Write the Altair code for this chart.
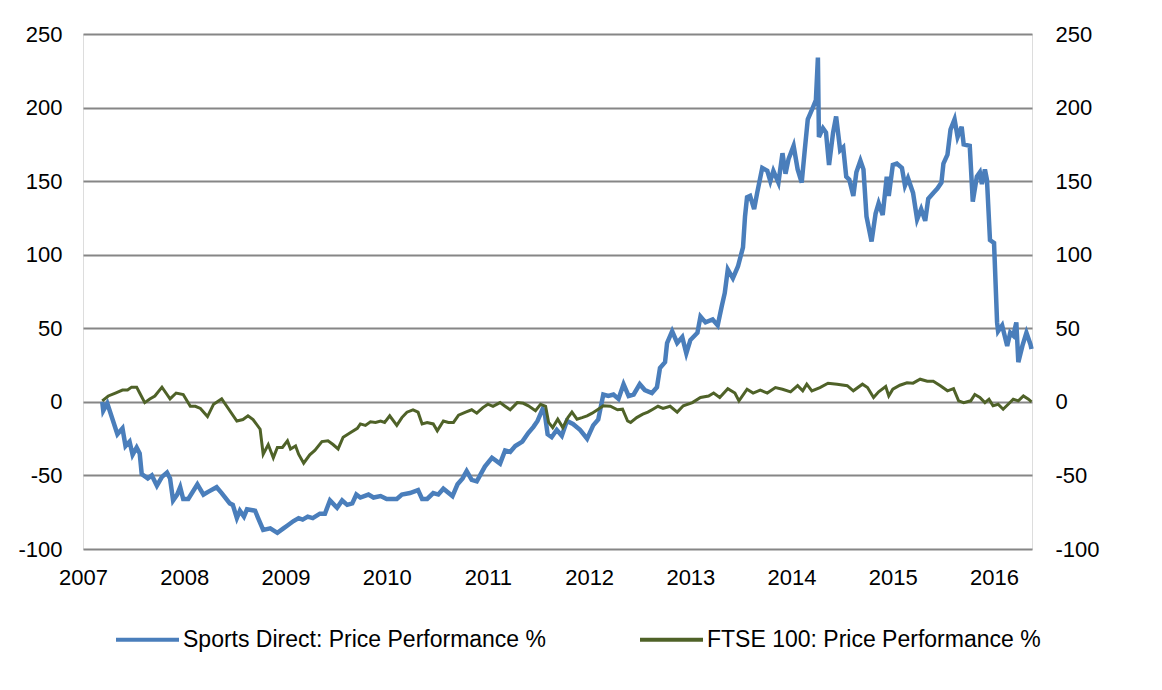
import altair as alt
import pandas as pd

# Sports Direct: Price Performance % (decimal year, value)
sd_year = [2007.19, 2007.20, 2007.24, 2007.34, 2007.39, 2007.42, 2007.46, 2007.49, 2007.53, 2007.56,
           2007.58, 2007.64, 2007.68, 2007.73, 2007.78, 2007.83, 2007.86, 2007.89, 2007.93, 2007.96,
           2007.99, 2008.04, 2008.13, 2008.19, 2008.24, 2008.32, 2008.37, 2008.45, 2008.48, 2008.52,
           2008.55, 2008.59, 2008.62, 2008.70, 2008.73, 2008.78, 2008.85, 2008.92, 2008.98, 2009.02,
           2009.08, 2009.13, 2009.17, 2009.22, 2009.27, 2009.34, 2009.39, 2009.44, 2009.51, 2009.56,
           2009.61, 2009.66, 2009.70, 2009.74, 2009.82, 2009.87, 2009.94, 2010.00, 2010.10, 2010.15,
           2010.23, 2010.31, 2010.35, 2010.40, 2010.46, 2010.51, 2010.56, 2010.65, 2010.70, 2010.75,
           2010.79, 2010.84, 2010.89, 2010.97, 2011.04, 2011.12, 2011.17, 2011.22, 2011.27, 2011.34,
           2011.40, 2011.45, 2011.49, 2011.54, 2011.56, 2011.59, 2011.63, 2011.68, 2011.73, 2011.78,
           2011.84, 2011.91, 2011.98, 2012.04, 2012.09, 2012.14, 2012.19, 2012.24, 2012.29, 2012.34,
           2012.39, 2012.44, 2012.50, 2012.55, 2012.62, 2012.67, 2012.70, 2012.75, 2012.77, 2012.82,
           2012.87, 2012.92, 2012.96, 2013.00, 2013.07, 2013.10, 2013.15, 2013.22, 2013.27, 2013.31,
           2013.34, 2013.37, 2013.42, 2013.47, 2013.52, 2013.54, 2013.56, 2013.59, 2013.63, 2013.66,
           2013.71, 2013.76, 2013.79, 2013.82, 2013.87, 2013.91, 2013.94, 2013.97, 2014.02, 2014.06,
           2014.10, 2014.13, 2014.16, 2014.21, 2014.24, 2014.26, 2014.27, 2014.31, 2014.34, 2014.37,
           2014.41, 2014.44, 2014.48, 2014.51, 2014.54, 2014.57, 2014.61, 2014.64, 2014.68, 2014.71,
           2014.74, 2014.79, 2014.83, 2014.86, 2014.90, 2014.94, 2014.96, 2015.00, 2015.04, 2015.09,
           2015.12, 2015.15, 2015.20, 2015.24, 2015.28, 2015.32, 2015.35, 2015.40, 2015.44, 2015.48,
           2015.50, 2015.54, 2015.57, 2015.61, 2015.64, 2015.68, 2015.70, 2015.76, 2015.79, 2015.83,
           2015.86, 2015.88, 2015.91, 2015.93, 2015.96, 2016.00, 2016.03, 2016.04, 2016.08, 2016.13,
           2016.16, 2016.19, 2016.22, 2016.24, 2016.28, 2016.32, 2016.36, 2016.37]
sd_value = [0, -6, -1, -22, -18, -30, -27, -36, -31, -35,
            -49, -52, -50, -57, -51, -48, -52, -67, -63, -58,
            -66, -66, -56, -63, -61, -58, -62, -69, -70, -79,
            -74, -78, -73, -74, -79, -87, -86, -89, -86, -84,
            -81, -79, -80, -78, -79, -76, -76, -67, -72, -67,
            -70, -69, -63, -65, -63, -65, -64, -66, -66, -63,
            -62, -60, -66, -66, -62, -63, -59, -64, -56, -52,
            -47, -53, -54, -44, -38, -42, -33, -34, -30, -27,
            -21, -17, -13, -5, -7, -22, -24, -19, -23, -13,
            -15, -19, -25, -16, -12, 5, 4, 5, 2, 12,
            4, 5, 12, 8, 6, 10, 23, 27, 40, 48,
            40, 44, 33, 42, 47, 58, 54, 56, 52, 65,
            74, 90, 84, 92, 105, 126, 139, 140, 131, 142,
            159, 157, 150, 157, 149, 169, 155, 165, 174, 158,
            149, 171, 192, 200, 205, 234, 180, 186, 183, 161,
            183, 194, 171, 173, 153, 151, 140, 156, 164, 158,
            126, 109, 128, 135, 127, 153, 140, 161, 162, 159,
            147, 152, 142, 124, 131, 123, 138, 142, 145, 149,
            162, 168, 185, 192, 180, 187, 175, 174, 136, 153,
            156, 148, 158, 151, 110, 108, 54, 48, 52, 38,
            47, 45, 54, 27, 38, 47, 39, 36]

# FTSE 100: Price Performance % (decimal year, value)
ftse_year = [2007.19, 2007.25, 2007.32, 2007.39, 2007.44, 2007.48, 2007.53, 2007.56, 2007.61, 2007.66,
             2007.71, 2007.78, 2007.83, 2007.86, 2007.92, 2007.99, 2008.06, 2008.11, 2008.16, 2008.23,
             2008.29, 2008.37, 2008.42, 2008.52, 2008.58, 2008.63, 2008.68, 2008.75, 2008.78, 2008.83,
             2008.88, 2008.92, 2008.97, 2009.02, 2009.05, 2009.10, 2009.13, 2009.18, 2009.24, 2009.29,
             2009.36, 2009.42, 2009.47, 2009.52, 2009.57, 2009.64, 2009.71, 2009.74, 2009.79, 2009.84,
             2009.89, 2009.94, 2009.98, 2010.03, 2010.10, 2010.15, 2010.20, 2010.26, 2010.31, 2010.35,
             2010.40, 2010.46, 2010.50, 2010.56, 2010.61, 2010.66, 2010.71, 2010.78, 2010.84, 2010.89,
             2010.95, 2011.00, 2011.05, 2011.12, 2011.17, 2011.22, 2011.29, 2011.35, 2011.40, 2011.47,
             2011.52, 2011.57, 2011.60, 2011.64, 2011.69, 2011.74, 2011.79, 2011.83, 2011.88, 2011.93,
             2011.98, 2012.03, 2012.09, 2012.14, 2012.21, 2012.28, 2012.33, 2012.38, 2012.41, 2012.47,
             2012.53, 2012.58, 2012.63, 2012.68, 2012.73, 2012.80, 2012.87, 2012.93, 2013.02, 2013.10,
             2013.18, 2013.23, 2013.29, 2013.37, 2013.44, 2013.48, 2013.56, 2013.62, 2013.69, 2013.76,
             2013.84, 2013.91, 2013.99, 2014.06, 2014.11, 2014.15, 2014.20, 2014.28, 2014.36, 2014.45,
             2014.55, 2014.61, 2014.70, 2014.75, 2014.81, 2014.86, 2014.93, 2014.96, 2015.00, 2015.07,
             2015.14, 2015.20, 2015.27, 2015.34, 2015.40, 2015.47, 2015.54, 2015.60, 2015.65, 2015.70,
             2015.77, 2015.81, 2015.86, 2015.91, 2015.95, 2015.99, 2016.04, 2016.09, 2016.14, 2016.19,
             2016.24, 2016.29, 2016.34, 2016.37]
ftse_value = [0.7, 4, 6, 8, 8, 10, 10, 6, -0.5, 2,
              4, 10, 5, 2, 6, 5, -3, -3, -4.5, -10,
              -1.6, 2, -3, -13, -12, -9.5, -12, -18.6, -35.6, -29,
              -38, -31, -31, -26.5, -32, -30, -35.6, -41.7, -36, -33,
              -27, -26.5, -29, -32, -24, -21, -18, -15, -16, -13.6,
              -14, -13, -14, -9.5, -16, -10.7, -7, -5.4, -7, -15,
              -14, -15, -19.7, -13, -14, -14, -9, -7, -5.4, -7.7,
              -3.9, -1.6, -3, -0.5, -3, -5.4, -0.5, -1, -2.7, -6,
              -1.6, -3, -14, -17.5, -11.8, -17.5, -10.7, -7, -11.8, -10.7,
              -9.5, -7.7, -5, -2.7, -3, -5.4, -5, -13, -14, -10.7,
              -8.4, -7, -5, -3, -4.5, -3, -7, -2.7, -0.5, 3,
              4, 6, 3, 9, 6, 0.7, 8.6, 6, 8, 6,
              9.7, 8.6, 6.8, 11, 7.5, 12, 7.5, 9.7, 12.7, 12,
              11, 7.5, 12, 9.7, 3, 6.8, 10.4, 4, 8.6, 11.3,
              13, 12.7, 15.4, 14, 14, 11, 7.5, 9, 0.7, -0.5,
              0.7, 5, 3, -0.5, 1.8, -2.7, -1.6, -5, -1.6, 1.8,
              0.7, 4, 1.8, 0]

series_names = ["Sports Direct: Price Performance %", "FTSE 100: Price Performance %"]
series_colors = ["#4A7EBB", "#4F6228"]
y_ticks = [-100, -50, 0, 50, 100, 150, 200, 250]
x_ticks = [2007, 2008, 2009, 2010, 2011, 2012, 2013, 2014, 2015, 2016]

df = pd.concat([
    pd.DataFrame({"year": sd_year, "value": sd_value, "series": series_names[0]}),
    pd.DataFrame({"year": ftse_year, "value": ftse_value, "series": series_names[1]}),
], ignore_index=True)

FONT = "Liberation Sans"
FS = 22

x_enc = alt.X("year:Q",
              scale=alt.Scale(domain=[2007, 2016.375], nice=False, zero=False),
              axis=alt.Axis(values=x_ticks, format="d", title=None, grid=False, domain=False,
                            ticks=False, labelFlush=False, labelPadding=18, labelFont=FONT,
                            labelFontSize=FS, labelColor="#000000", labelOverlap=False))
y_scale = alt.Scale(domain=[-100, 250], nice=False, zero=False)
label_expr = "datum.value < 0 ? '-' + (-datum.value) : '' + datum.value"

color_enc = alt.Color("series:N",
                      scale=alt.Scale(domain=series_names, range=series_colors),
                      legend=alt.Legend(title=None, orient="none", direction="horizontal",
                                        legendX=31, legendY=572, symbolType="stroke",
                                        symbolSize=3969, symbolStrokeWidth=4, labelOffset=2,
                                        columnPadding=85, labelFont=FONT, labelFontSize=23,
                                        labelColor="#000000", labelLimit=0))

left_axis = alt.Axis(values=y_ticks, title=None, grid=True, gridColor="#868686", gridWidth=2,
                     domain=False, ticks=False, labelPadding=21, labelFont=FONT, labelFontSize=FS,
                     labelColor="#000000", labelExpr=label_expr)
right_axis = alt.Axis(values=y_ticks, title=None, grid=False, orient="right",
                      domain=False, ticks=False, labelPadding=23, labelFont=FONT, labelFontSize=FS,
                      labelColor="#000000", labelExpr=label_expr)

blue = alt.Chart(df).transform_filter(alt.datum.series == series_names[0]).mark_line(
    strokeWidth=4.5).encode(x=x_enc, y=alt.Y("value:Q", scale=y_scale, axis=left_axis), color=color_enc)
green = alt.Chart(df).transform_filter(alt.datum.series == series_names[1]).mark_line(
    strokeWidth=3).encode(x=x_enc, y=alt.Y("value:Q", scale=y_scale, axis=None), color=color_enc)
right = alt.Chart(df).transform_filter(alt.datum.series == series_names[1]).mark_line(
    opacity=0).encode(x=x_enc, y=alt.Y("value:Q", scale=y_scale, axis=right_axis))

chart = alt.layer(blue, green, right).resolve_axis(y="independent").properties(
    width=949, height=515,
    autosize=alt.AutoSizeParams(type="none"),
    padding={"left": 75, "top": 26, "right": 100, "bottom": 120},
).configure_view(stroke=None).configure(background="#ffffff")

chart.save("out.html", embed_options={"renderer": "svg", "actions": False})
